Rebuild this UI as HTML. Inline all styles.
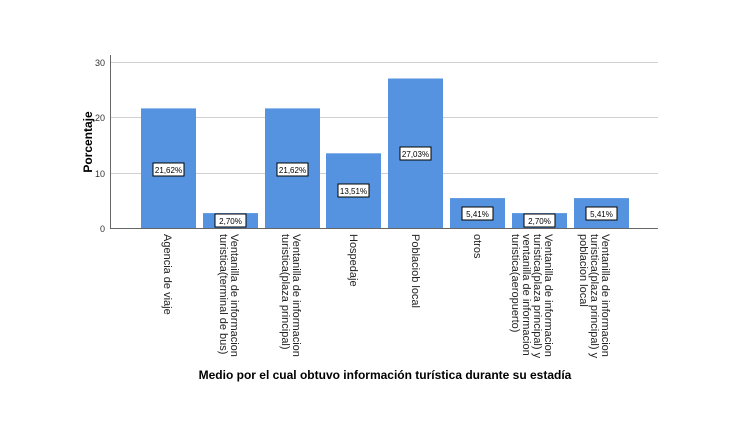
<!DOCTYPE html>
<html><head><style>body{margin:0;background:#fff}svg{display:block}text{font-family:"Liberation Sans",Arial,sans-serif}</style></head>
<body>
<svg width="750" height="421" viewBox="0 0 750 421">
<g stroke="#d0d0d0" stroke-width="1">
<line x1="111" y1="62.5" x2="658" y2="62.5"/>
<line x1="111" y1="117.5" x2="658" y2="117.5"/>
<line x1="111" y1="173.5" x2="658" y2="173.5"/>
</g>
<g fill="#5593e0">
<rect x="141" y="108.4" width="55" height="119.6"/>
<rect x="203" y="213.1" width="55" height="14.9"/>
<rect x="265" y="108.4" width="55" height="119.6"/>
<rect x="326" y="153.3" width="55" height="74.7"/>
<rect x="388" y="78.5" width="55" height="149.5"/>
<rect x="450" y="198.1" width="55" height="29.9"/>
<rect x="512" y="213.1" width="55" height="14.9"/>
<rect x="574" y="198.1" width="55" height="29.9"/>
</g>
<line x1="111" y1="228.5" x2="658" y2="228.5" stroke="#666"/>
<line x1="110.5" y1="55" x2="110.5" y2="229" stroke="#666"/>
<g font-size="9" fill="#333" text-anchor="end">
<text x="105" y="66">30</text><text x="105" y="121">20</text><text x="105" y="177">10</text><text x="105" y="232">0</text>
</g>
<text transform="translate(92,142) rotate(-90)" font-size="12" font-weight="bold" text-anchor="middle">Porcentaje</text>
<g font-size="8" text-anchor="middle">
<g fill="#fff" stroke="#000" stroke-width="1">
<rect x="153" y="163" width="31" height="13"/>
<rect x="215" y="214" width="31" height="13"/>
<rect x="277" y="163" width="31" height="13"/>
<rect x="338" y="184" width="31" height="13"/>
<rect x="400" y="147" width="31" height="13"/>
<rect x="462" y="207" width="31" height="13"/>
<rect x="524" y="214" width="31" height="13"/>
<rect x="586" y="207" width="31" height="13"/>
</g>
<text x="168.5" y="173">21,62%</text>
<text x="230.5" y="224">2,70%</text>
<text x="292.5" y="173">21,62%</text>
<text x="353.5" y="194">13,51%</text>
<text x="415.5" y="157">27,03%</text>
<text x="477.5" y="217">5,41%</text>
<text x="539.5" y="224">2,70%</text>
<text x="601.5" y="217">5,41%</text>
</g>
<g font-size="11" fill="#222">
<text transform="translate(164,234) rotate(90)">Agencia de viaje</text>
<text transform="translate(231,234) rotate(90)"><tspan x="0" dy="0">Ventanilla de informacion</tspan><tspan x="0" dy="11">turistica(terminal de bus)</tspan></text>
<text transform="translate(293,234) rotate(90)"><tspan x="0" dy="0">Ventanilla de informacion</tspan><tspan x="0" dy="11">turistica(plaza principal)</tspan></text>
<text transform="translate(350,234) rotate(90)">Hospedaje</text>
<text transform="translate(412,234) rotate(90)">Poblaciob local</text>
<text transform="translate(474,234) rotate(90)">otros</text>
<text transform="translate(545,234) rotate(90)"><tspan x="0" dy="0">Ventanilla de informacion</tspan><tspan x="0" dy="11">turistica(plaza principal) y</tspan><tspan x="0" dy="11">ventanilla de informacion</tspan><tspan x="0" dy="11">turistica(aeropuerto)</tspan></text>
<text transform="translate(602,234) rotate(90)"><tspan x="0" dy="0">Ventanilla de informacion</tspan><tspan x="0" dy="11">turistica(plaza principal) y</tspan><tspan x="0" dy="11">poblacion local</tspan></text>
</g>
<text x="385" y="379" font-size="12" font-weight="bold" text-anchor="middle">Medio por el cual obtuvo información turística durante su estadía</text>
</svg>
</body></html>
